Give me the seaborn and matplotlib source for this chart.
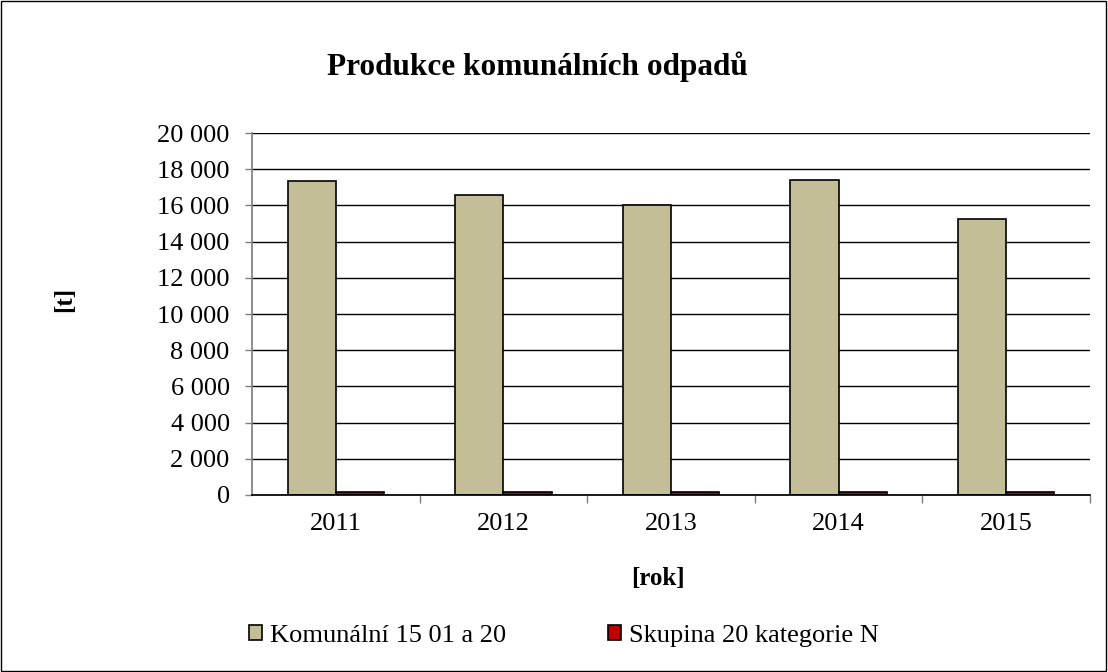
import matplotlib
matplotlib.use("Agg")
import matplotlib.pyplot as plt
import matplotlib.patches as mpatches
from matplotlib.ticker import FuncFormatter, FixedLocator
import seaborn as sns
import pandas as pd

years = ["2011", "2012", "2013", "2014", "2015"]
komunalni = [17350, 16600, 16000, 17400, 15250]
skupina20 = [180, 160, 190, 150, 170]
series_names = ["Komunální 15 01 a 20", "Skupina 20 kategorie N"]
colors = ["#C4BE98", "#C00000"]

df = pd.DataFrame({
    "rok": years * 2,
    "hodnota": komunalni + skupina20,
    "serie": [series_names[0]] * 5 + [series_names[1]] * 5,
})

sns.set_theme(style="white")
plt.rcParams["font.family"] = ["Liberation Serif", "DejaVu Serif"]
plt.rcParams["text.color"] = "black"
plt.rcParams["axes.labelcolor"] = "black"
plt.rcParams["xtick.color"] = "black"
plt.rcParams["ytick.color"] = "black"

fig = plt.figure(figsize=(11.08, 6.72), dpi=100)
ax = fig.add_axes([0.2274, 0.2634, 0.7564, 0.5386])

sns.barplot(data=df, x="rok", y="hodnota", hue="serie", palette=colors,
            width=0.575, edgecolor="black", linewidth=1.2, ax=ax, legend=False,
            saturation=1)

ax.set_ylim(0, 20000)
ax.set_xlim(-0.5, 4.5)
ax.set_yticks(range(0, 20001, 2000))
ax.yaxis.set_major_formatter(FuncFormatter(lambda v, p: f"{int(v):,}".replace(",", " ")))
ax.grid(axis="y", color="black", linewidth=1.0)
ax.set_axisbelow(True)
for s in ["top", "right"]:
    ax.spines[s].set_visible(False)
ax.spines["left"].set_color("#808080")
ax.spines["bottom"].set_color("black")
ax.tick_params(axis="y", which="major", length=5, width=1, color="#808080", direction="out",
               labelsize=19, pad=11, left=True, labelcolor="black")
ax.tick_params(axis="x", which="major", length=0, labelsize=19, pad=13, labelcolor="black")
ax.xaxis.set_minor_locator(FixedLocator([0.5, 1.5, 2.5, 3.5, 4.5]))
ax.tick_params(axis="x", which="minor", length=6, width=1, color="#808080", direction="out", bottom=True)

ax.set_xlabel("[rok]", fontsize=18, fontweight="bold", color="black", va="center")
ax.set_ylabel("[t]", fontsize=18, fontweight="bold", color="black", va="center")
ax.xaxis.set_label_coords(0.485, -0.232)
ax.yaxis.set_label_coords(-0.224, 0.54)

fig.text(0.4846, 0.901, "Produkce komunálních odpadů", ha="center", va="center",
         fontsize=22.5, fontweight="bold", color="black")

handles = [mpatches.Patch(facecolor=c, edgecolor="black", linewidth=1.2) for c in colors]
fig.legend(handles, series_names, loc="center left", bbox_to_anchor=(0.225, 0.054), ncol=2,
           frameon=False, fontsize=19, handlelength=0.5, handleheight=0.5,
           handletextpad=0.3, columnspacing=3.85, borderaxespad=0, borderpad=0,
           labelcolor="black")

border = mpatches.Rectangle((0.001, 0.001), 0.997, 0.997, transform=fig.transFigure,
                            fill=False, edgecolor="black", linewidth=1)
fig.patches.append(border)

fig.savefig("out.png", dpi=100, facecolor="white")
